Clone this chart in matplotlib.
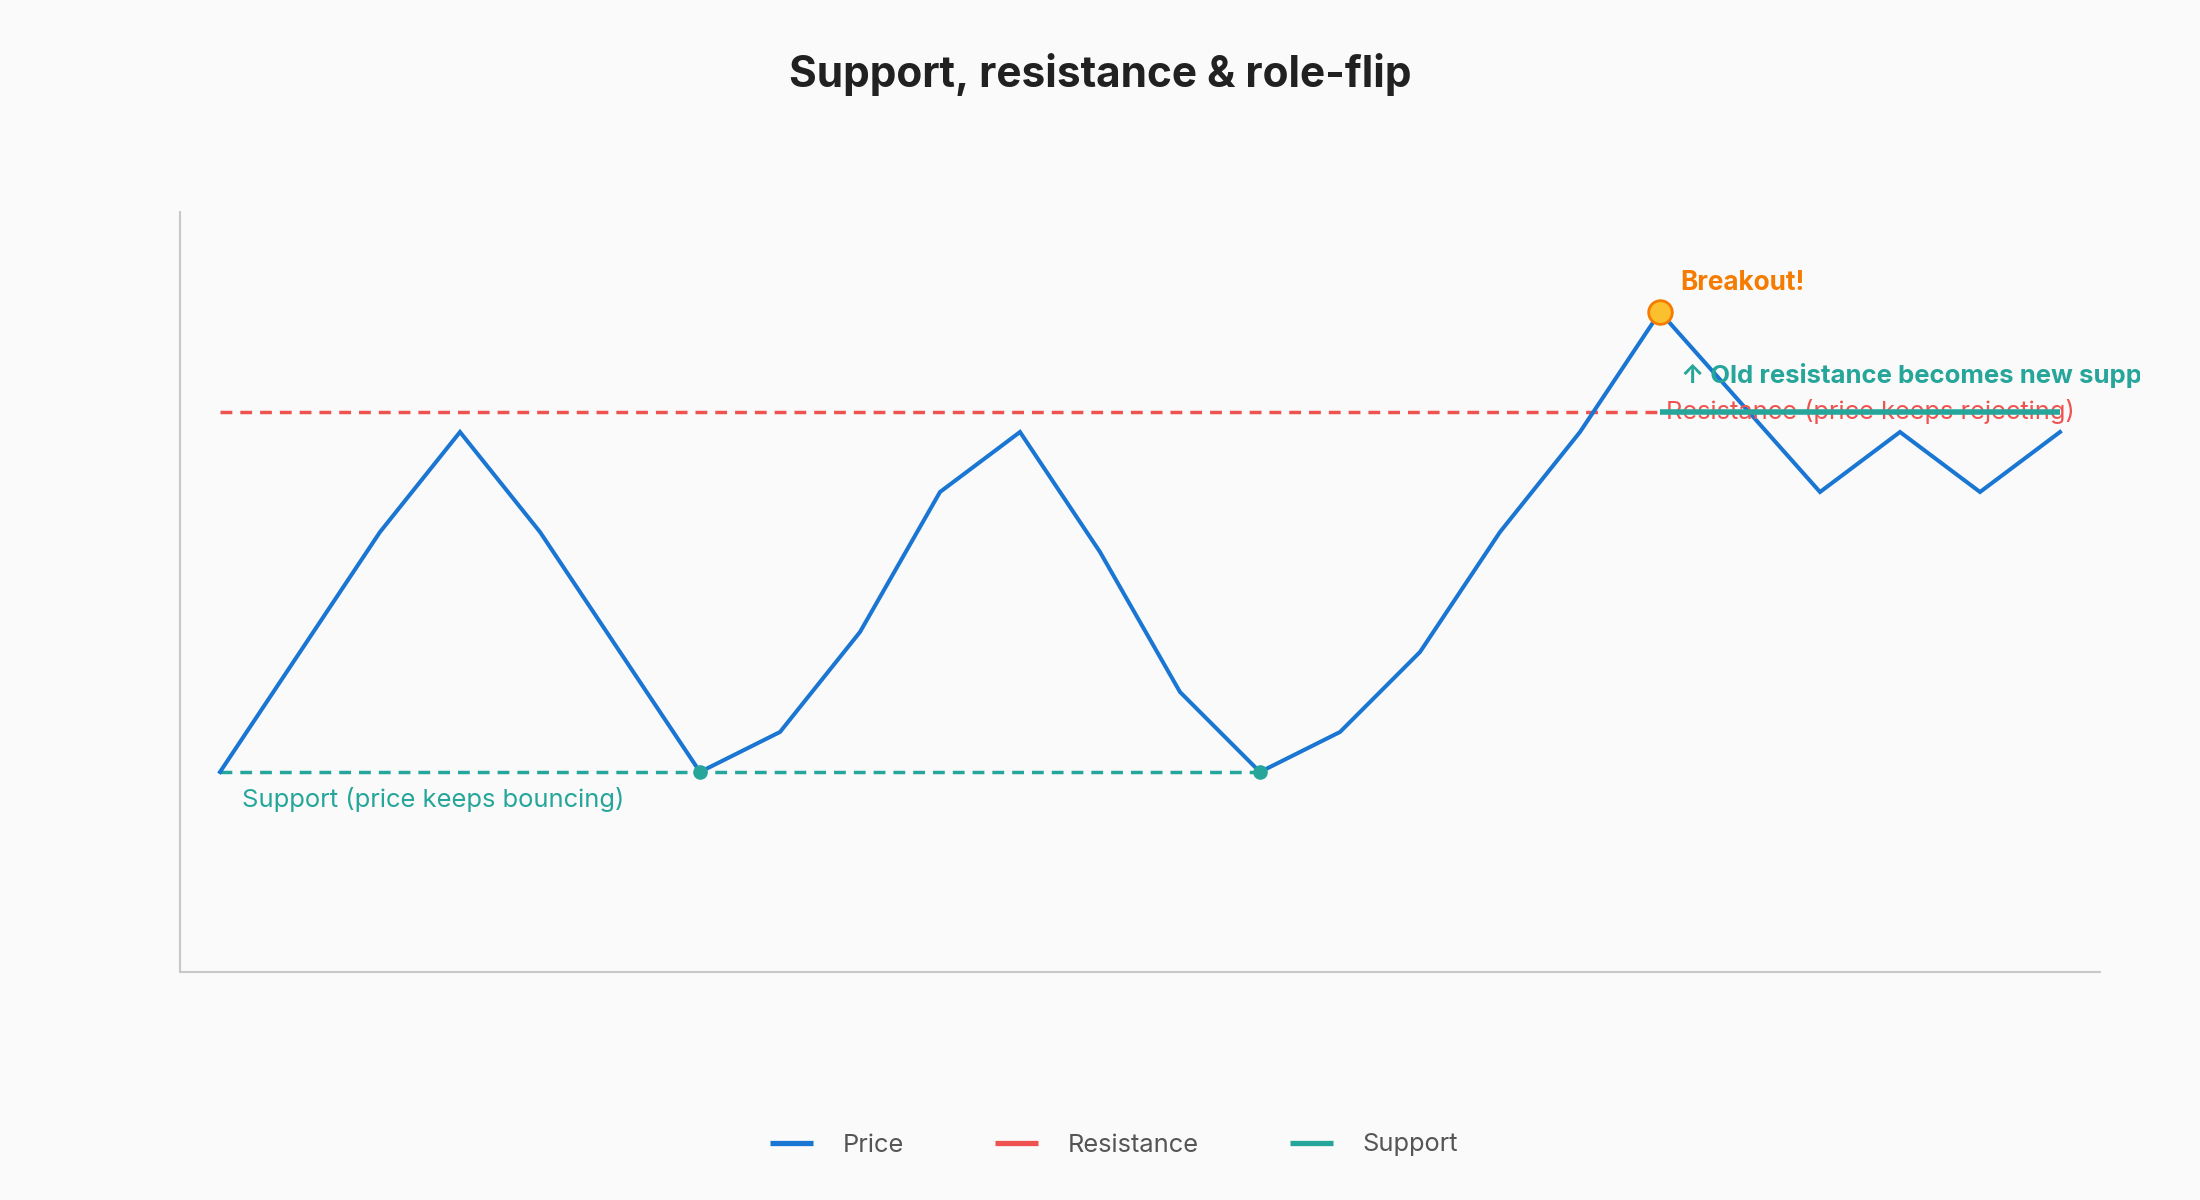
import matplotlib
matplotlib.use("Agg")
import matplotlib.pyplot as plt
from matplotlib.lines import Line2D
from matplotlib.transforms import Bbox, TransformedBbox

plt.rcParams['font.family'] = ['Inter', 'DejaVu Sans']

# data
price = [100, 106, 112, 117, 112, 106, 100, 102, 107, 114, 117, 111,
         104, 100, 102, 106, 112, 117, 123, 118.5, 114, 117, 114, 117]
support_level = 100
resistance_level = 118
support_end = 13
breakout_idx = 18
bounce_idx = [6, 13]
series_names = ["Price", "Resistance", "Support"]

blue = "#1976D2"
red = "#EF5350"
teal = "#26A69A"
orange = "#F57C00"
bg = "#FAFAFA"

x = list(range(len(price)))

fig = plt.figure(figsize=(22, 12), dpi=100, facecolor=bg)
ax = fig.add_axes([180/2200, 228/1200, 1920/2200, 760/1200])
ax.set_facecolor(bg)

dash = (0, (3.4, 2.3))
ax.plot([0, support_end], [support_level]*2, color=teal, lw=2.5, ls=dash, zorder=2)
ax.plot([0, breakout_idx], [resistance_level]*2, color=red, lw=2.5, ls=dash, zorder=2)
ax.plot(x, price, color=blue, lw=2.9, solid_joinstyle='miter', zorder=3)
ax.plot(bounce_idx, [price[i] for i in bounce_idx], 'o', color=teal, ms=9.5, zorder=4)

ax.text(breakout_idx + 0.08, resistance_level, "Resistance (price keeps rejecting)",
        color=red, fontsize=18.3, va='center', ha='left', zorder=4)
ax.plot([breakout_idx, x[-1]], [resistance_level]*2, color=teal, lw=4, zorder=5,
        solid_capstyle='butt')
ax.plot([breakout_idx], [price[breakout_idx]], 'o', ms=17, mfc="#FBC02D", mec=orange,
        mew=2, zorder=6)

ax.text(0.27, support_level - 1.4, "Support (price keeps bouncing)", color=teal,
        fontsize=18.4, va='center', ha='left')
ax.text(breakout_idx + 0.25, price[breakout_idx] + 1.45, "Breakout!", color=orange,
        fontsize=18.8, fontweight='bold', va='center', ha='left')
t = ax.text(breakout_idx + 0.26, resistance_level + 1.85, "\u2191 Old resistance becomes new support",
            color=teal, fontsize=18.5, fontweight='bold', va='center', ha='left',
            family=['Inter', 'DejaVu Sans'])
t.set_clip_on(True)
t.set_clip_box(TransformedBbox(Bbox.from_extents(0, 0, 2140/2200, 1), fig.transFigure))

ax.set_xlim(-0.5, len(price) - 0.5)
ax.set_ylim(90, 128)
ax.set_xticks([])
ax.set_yticks([])
for s in ['top', 'right']:
    ax.spines[s].set_visible(False)
for s in ['left', 'bottom']:
    ax.spines[s].set_color("#C8C8C8")
    ax.spines[s].set_linewidth(1.5)

fig.text(0.5, 1 - 75/1200, "Support, resistance & role-flip", ha='center', va='center',
         fontsize=30.5, fontweight='bold', color="#212121")

handles = [Line2D([], [], color=c, lw=3.8, solid_capstyle='butt') for c in (blue, red, teal)]
fig.legend(handles, series_names, loc='center', bbox_to_anchor=(1114/2200, 1 - 1145/1200),
           ncol=3, frameon=False, fontsize=18.3, labelcolor="#555555",
           handlelength=1.7, handletextpad=1.15, columnspacing=3.6)

fig.savefig("out.png", dpi=100, facecolor=bg)
